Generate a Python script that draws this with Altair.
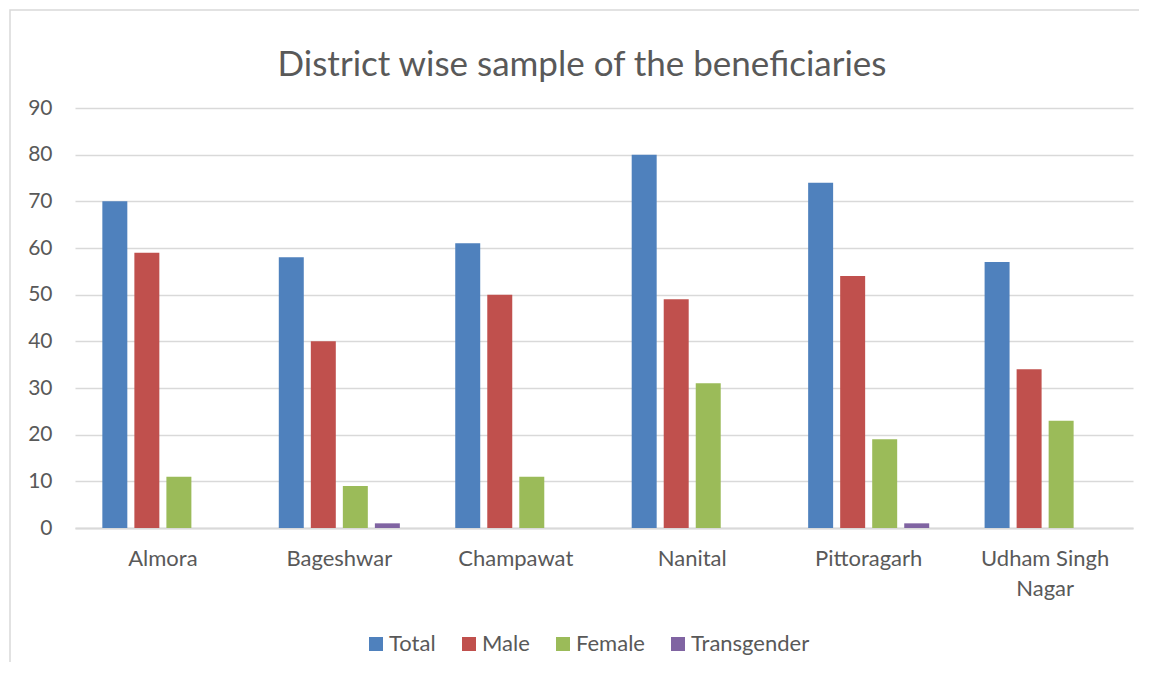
import altair as alt
import pandas as pd

title_text = "District wise sample of the beneficiaries"
districts = ["Almora", "Bageshwar", "Champawat", "Nanital", "Pittoragarh", "Udham Singh Nagar"]
series = ["Total", "Male", "Female", "Transgender"]
total = [70, 58, 61, 80, 74, 57]
male = [59, 40, 50, 49, 54, 34]
female = [11, 9, 11, 31, 19, 23]
transgender = [0, 1, 0, 0, 1, 0]
colors = ["#4F81BD", "#C0504D", "#9BBB59", "#8064A2"]
y_ticks = [0, 10, 20, 30, 40, 50, 60, 70, 80, 90]

rows = []
for i, d in enumerate(districts):
    for s, vals in zip(series, [total, male, female, transgender]):
        rows.append({"District": d, "Category": s, "Value": vals[i]})
df = pd.DataFrame(rows)

FONT = "Lato"
TXT = "#595959"

bars = alt.Chart(df).mark_bar().encode(
    x=alt.X("District:N", sort=districts, title=None,
            scale=alt.Scale(paddingInner=0.274, paddingOuter=0.135),
            axis=alt.Axis(labelAngle=0, labelFontSize=22, labelColor=TXT, labelFont=FONT,
                          labelPadding=20, labelLineHeight=30, ticks=False,
                          domainColor="#D9D9D9", domainWidth=2,
                          labelExpr="indexof(datum.label, 'Udham') >= 0 ? ['Udham Singh', 'Nagar'] : datum.label")),
    xOffset=alt.XOffset("Category:N", sort=series,
                        scale=alt.Scale(paddingInner=0.22, paddingOuter=0.11)),
    y=alt.Y("Value:Q", title=None,
            scale=alt.Scale(domain=[0, 90], nice=False),
            axis=alt.Axis(values=y_ticks, labelFontSize=21, labelColor=TXT, labelFont=FONT,
                          labelPadding=23, ticks=False, domain=False,
                          gridColor="#D9D9D9", gridWidth=1.3)),
    color=alt.Color("Category:N", sort=series,
                    scale=alt.Scale(domain=series, range=colors),
                    legend=alt.Legend(title=None, orient="none", direction="horizontal",
                                      legendX=290, legendY=525,
                                      symbolType="square", symbolSize=196,
                                      symbolStrokeWidth=0,
                                      labelFontSize=22, labelColor=TXT, labelFont=FONT,
                                      labelOffset=2, columnPadding=22)),
)

frame = alt.Chart(pd.DataFrame({"k": [0]})).mark_rect(
    fill=None, stroke="#D9D9D9", strokeWidth=1.5
).encode(
    x=alt.value(-65), x2=alt.value(1200), y=alt.value(-98), y2=alt.value(700)
)

title = alt.Chart(pd.DataFrame({"t": [title_text]})).mark_text(
    font=FONT, fontSize=35, color=TXT, align="center", baseline="alphabetic"
).encode(
    text="t:N", x=alt.value(507), y=alt.value(-32)
)

chart = alt.layer(frame, bars, title).properties(
    width=1058, height=420,
    autosize=alt.AutoSizeParams(type="none"),
    padding={"left": 67, "top": 100, "right": 6, "bottom": 134},
).configure_view(stroke=None)

chart.save("out.html", embed_options={"renderer": "svg", "actions": False})
